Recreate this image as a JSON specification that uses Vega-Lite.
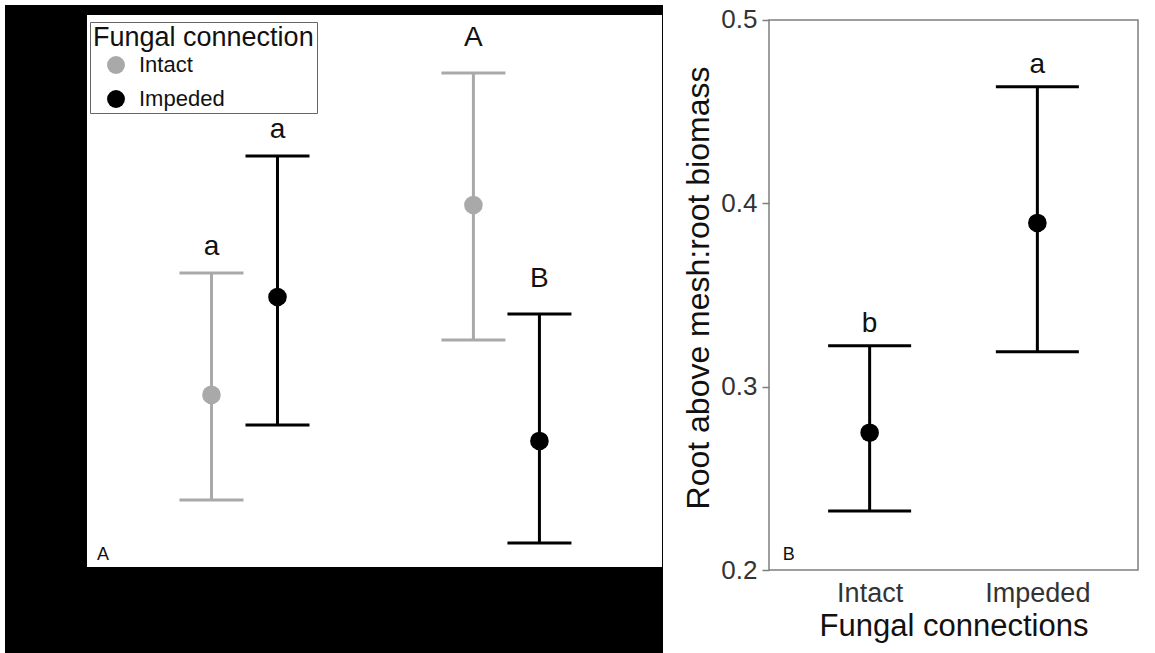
{
  "$schema": "https://vega.github.io/schema/vega-lite/v6.json",
  "background": "white",
  "padding": {"left": 5, "top": 5, "right": 0, "bottom": 0},
  "spacing": 19,
  "config": {"font": "Liberation Sans"},
  "resolve": {"scale": {"color": "independent", "fill": "independent", "stroke": "independent"}, "legend": {"color": "independent"}},
  "hconcat": [
    {
      "width": 658,
      "height": 648,
      "view": {"fill": "black", "stroke": null},
      "resolve": {"scale": {"x": "independent"}},
      "layer": [
        {
          "data": {"values": [{}]},
          "layer": [
            {
              "mark": {"type": "rect", "fill": "white"},
              "encoding": {
                "x": {"datum": 0.1246, "type": "quantitative", "scale": {"domain": [0, 1], "nice": false, "zero": false}, "axis": null},
                "x2": {"datum": 0.9985},
                "y": {"datum": 0.2016, "type": "quantitative", "scale": {"domain": [0.15473, 0.50818], "nice": false, "zero": false}, "axis": null},
                "y2": {"datum": 0.5027}
              }
            },
            {
              "mark": {"type": "text", "text": "A", "fontSize": 18, "font": "Liberation Sans", "baseline": "alphabetic", "align": "center", "color": "#111"},
              "encoding": {
                "x": {"datum": 0.149, "type": "quantitative"},
                "y": {"datum": 0.2055, "type": "quantitative"}
              }
            }
          ]
        },
        {
          "data": {
            "values": [
              {"group": "G1", "fungal": "Intact", "mean": 0.2955, "lower": 0.2382, "upper": 0.362, "letter": "a"},
              {"group": "G1", "fungal": "Impeded", "mean": 0.3489, "lower": 0.2791, "upper": 0.4258, "letter": "a"},
              {"group": "G2", "fungal": "Intact", "mean": 0.3991, "lower": 0.3255, "upper": 0.4711, "letter": "A"},
              {"group": "G2", "fungal": "Impeded", "mean": 0.2704, "lower": 0.2147, "upper": 0.3396, "letter": "B"}
            ]
          },
          "encoding": {
            "x": {"field": "group", "type": "nominal", "axis": null, "scale": {"paddingInner": 0.496, "paddingOuter": 0.504, "align": 0.657}},
            "xOffset": {"field": "fungal", "type": "nominal", "sort": ["Intact", "Impeded"], "scale": {"paddingInner": 0, "paddingOuter": 0}}
          },
          "layer": [
            {
              "mark": {"type": "rule", "strokeWidth": 3, "opacity": 1},
              "encoding": {
                "y": {"field": "lower", "type": "quantitative"},
                "y2": {"field": "upper"},
                "stroke": {"field": "fungal", "type": "nominal", "scale": {"domain": ["Impeded", "Intact"], "range": ["#000000", "#a9a9a9"]}, "legend": null}
              }
            },
            {
              "mark": {"type": "tick", "thickness": 3, "size": 64, "opacity": 1},
              "encoding": {
                "y": {"field": "upper", "type": "quantitative"},
                "fill": {"field": "fungal", "type": "nominal", "scale": {"domain": ["Impeded", "Intact"], "range": ["#000000", "#a9a9a9"]}, "legend": null}
              }
            },
            {
              "mark": {"type": "tick", "thickness": 3, "size": 64, "opacity": 1},
              "encoding": {
                "y": {"field": "lower", "type": "quantitative"},
                "fill": {"field": "fungal", "type": "nominal", "scale": {"domain": ["Impeded", "Intact"], "range": ["#000000", "#a9a9a9"]}, "legend": null}
              }
            },
            {
              "mark": {"type": "circle", "size": 346, "opacity": 1},
              "encoding": {
                "y": {"field": "mean", "type": "quantitative"},
                "color": {
                  "field": "fungal", "type": "nominal",
                  "scale": {"domain": ["Intact", "Impeded"], "range": ["#a9a9a9", "#000000"]},
                  "legend": {
                    "orient": "none", "legendX": 85, "legendY": 17,
                    "title": "Fungal connection", "titleLimit": 600,
                    "titleFont": "Liberation Sans", "titleFontSize": 27, "titleFontWeight": "normal", "titleColor": "#111", "titlePadding": 2,
                    "labelFont": "Liberation Sans", "labelFontSize": 22, "labelColor": "#111", "labelOffset": 12,
                    "symbolType": "circle", "symbolSize": 320, "symbolStrokeWidth": 0, "symbolOffset": 12, "symbolOpacity": 1,
                    "rowPadding": 12, "padding": 3, "strokeColor": "#666", "fillColor": "white"
                  }
                }
              }
            },
            {
              "transform": [{"filter": "datum.letter === lower(datum.letter)"}],
              "mark": {"type": "text", "fontSize": 28, "font": "Liberation Sans", "baseline": "alphabetic", "align": "center", "dy": -18, "color": "#111"},
              "encoding": {
                "y": {"field": "upper", "type": "quantitative"},
                "text": {"field": "letter"}
              }
            },
            {
              "transform": [{"filter": "datum.letter !== lower(datum.letter)"}],
              "mark": {"type": "text", "fontSize": 28, "font": "Liberation Sans", "baseline": "alphabetic", "align": "center", "dy": -27, "color": "#111"},
              "encoding": {
                "y": {"field": "upper", "type": "quantitative"},
                "text": {"field": "letter"}
              }
            }
          ]
        }
      ]
    },
    {
      "width": 369,
      "height": 565,
      "view": {"stroke": null, "fill": "white"},
      "resolve": {"scale": {"x": "independent"}},
      "layer": [
        {
          "data": {"values": [{}]},
          "mark": {"type": "rect", "fill": null, "stroke": "#7f7f7f", "strokeWidth": 1.5},
          "encoding": {
            "x": {"datum": 0, "type": "quantitative", "scale": {"domain": [0, 1], "nice": false, "zero": false}, "axis": null},
            "x2": {"datum": 1},
            "y": {"datum": 0.2, "type": "quantitative", "scale": {"domain": [0.2, 0.50818], "nice": false, "zero": false}},
            "y2": {"datum": 0.5}
          }
        },
        {
          "data": {
            "values": [
              {"fungal": "Intact", "mean": 0.2749, "lower": 0.2322, "upper": 0.3223, "letter": "b"},
              {"fungal": "Impeded", "mean": 0.3893, "lower": 0.3191, "upper": 0.4636, "letter": "a"}
            ]
          },
          "encoding": {
            "x": {
              "field": "fungal", "type": "nominal", "sort": ["Intact", "Impeded"],
              "scale": {"type": "point", "padding": 0.6},
              "axis": {
                "title": "Fungal connections", "labelAngle": 0, "ticks": false, "domain": false,
                "labelFont": "Liberation Sans", "labelFontSize": 27, "labelColor": "#333", "labelPadding": 10,
                "titleFont": "Liberation Sans", "titleFontSize": 31, "titleFontWeight": "normal", "titleColor": "#111", "titlePadding": 5
              }
            }
          },
          "layer": [
            {
              "mark": {"type": "rule", "strokeWidth": 3, "color": "black", "opacity": 1},
              "encoding": {
                "y": {
                  "field": "lower", "type": "quantitative",
                  "axis": {
                    "title": "Root above mesh:root biomass", "values": [0.2, 0.3, 0.4, 0.5], "format": ".1f", "grid": false, "domain": false,
                    "tickSize": 7, "tickColor": "#7f7f7f", "tickWidth": 1.5,
                    "labelFont": "Liberation Sans", "labelFontSize": 26, "labelColor": "#333", "labelPadding": 5,
                    "titleFont": "Liberation Sans", "titleFontSize": 32, "titleFontWeight": "normal", "titleColor": "#111", "titlePadding": 5
                  }
                },
                "y2": {"field": "upper"}
              }
            },
            {
              "mark": {"type": "tick", "thickness": 3, "size": 83, "color": "black", "opacity": 1},
              "encoding": {"y": {"field": "upper", "type": "quantitative"}}
            },
            {
              "mark": {"type": "tick", "thickness": 3, "size": 83, "color": "black", "opacity": 1},
              "encoding": {"y": {"field": "lower", "type": "quantitative"}}
            },
            {
              "mark": {"type": "circle", "size": 346, "opacity": 1, "color": "black"},
              "encoding": {"y": {"field": "mean", "type": "quantitative"}}
            },
            {
              "mark": {"type": "text", "fontSize": 28, "font": "Liberation Sans", "baseline": "alphabetic", "align": "center", "dy": -14, "color": "#111"},
              "encoding": {
                "y": {"field": "upper", "type": "quantitative"},
                "text": {"field": "letter"}
              }
            },
            {
              "data": {"values": [{}]},
              "mark": {"type": "text", "text": "B", "fontSize": 18, "font": "Liberation Sans", "baseline": "alphabetic", "align": "center", "dx": -81, "color": "#111"},
              "encoding": {
                "x": {"datum": "Intact"},
                "y": {"datum": 0.2055, "type": "quantitative"}
              }
            }
          ]
        }
      ]
    }
  ]
}
